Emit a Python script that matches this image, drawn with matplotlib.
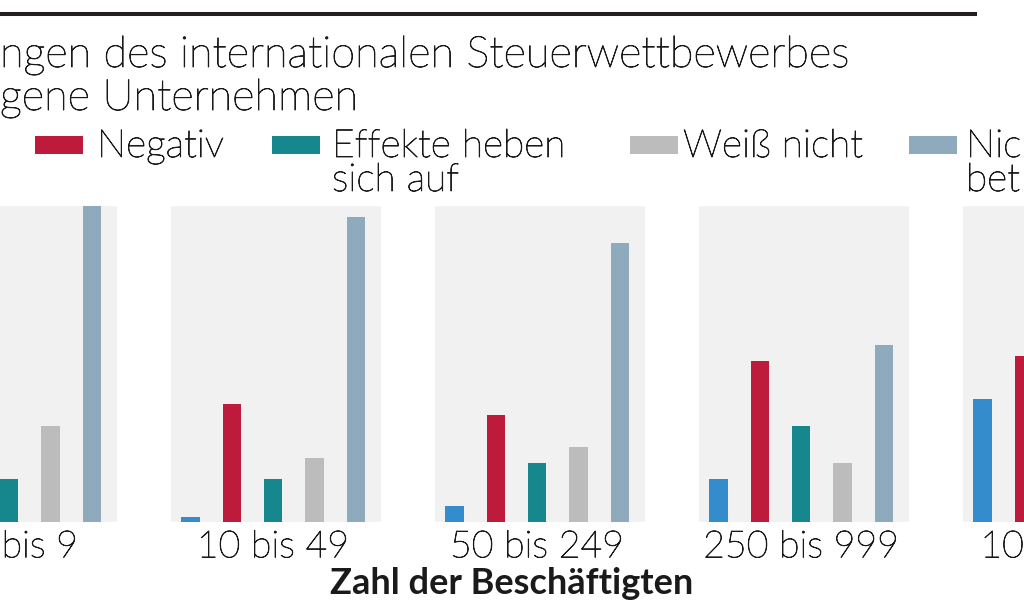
import matplotlib
matplotlib.use('Agg')
import matplotlib.pyplot as plt
import matplotlib.patheffects as pe
from matplotlib.lines import Line2D
from matplotlib.patches import Rectangle
import numpy as np

# Zahl der Beschaeftigten (only the visible part of the cropped labels)
groups = ['bis 9', '10 bis 49', '50 bis 249', '250 bis 999', '10']
categories = ['Positiv', 'Negativ', 'Effekte heben\nsich auf', 'Weiß nicht', 'Nic\nbet']
colors = ['#348ccd', '#be1a3b', '#16878d', '#bcbcbc', '#8faabd']

# Anteile in Prozent, je Gruppe
positiv = [2, 1, 3, 8, 23]
negativ = [13, 22, 20, 30, 31]
effekte = [8, 8, 11, 18, 20]
weiss_nicht = [18, 12, 14, 11, 6]
nicht_betroffen = [59, 57, 52, 33, 20]
series = [positiv, negativ, effekte, weiss_nicht, nicht_betroffen]

title_1 = 'ngen des internationalen Steuerwettbewerbes'
title_2 = 'gene Unternehmen'
xlabel = 'Zahl der Beschäftigten'

W, H = 1024, 600
TXT = '#1a1a1a'
# light font, slightly thickened
thin = dict(fontweight='light', color=TXT,
            path_effects=[pe.withStroke(linewidth=0.6, foreground=TXT)])
plt.rcParams['font.family'] = ['Lato', 'DejaVu Sans']
fig = plt.figure(figsize=(W / 100, H / 100), dpi=100)
fig.patch.set_facecolor('white')


def fx(px):
    return px / W


def fy(py):
    return 1 - py / H


# thick rule on top
fig.add_artist(Line2D([0, fx(975)], [fy(14), fy(14)], lw=2.9, color='#231f20'))

# title (cropped on the left in the original)
fig.text(0, fy(67), title_1, ha='left', va='baseline', fontsize=31.2, **thin)
fig.text(0, fy(110), title_2, ha='left', va='baseline', fontsize=31.2, **thin)

# legend, drawn by hand; the "Positiv" entry lies outside the crop
patch_x = [None, 35, 272, 630, 909]
text_x = [None, 97, 332, 683, 966]
for i, cat in enumerate(categories):
    if patch_x[i] is None:
        continue
    fig.add_artist(Rectangle((fx(patch_x[i]), fy(154)), fx(48), 18 / H,
                             color=colors[i], lw=0))
    for j, line in enumerate(cat.split('\n')):
        fig.text(fx(text_x[i]), fy(157 + 34 * j), line, ha='left', va='baseline',
                 fontsize=28, **thin)

# panels
lefts = [-93, 171, 435, 699, 963]
label_x = [1.82, 2, 2, 2, -0.05]
label_ha = ['left', 'center', 'center', 'center', 'left']
x = np.arange(len(categories))
for g, left in enumerate(lefts):
    ax = fig.add_axes([fx(left), fy(522), fx(210), 316 / H])
    ax.set_facecolor('#f1f1f1')
    for i in range(len(categories)):
        ax.bar(x[i], series[i][g], width=0.44, color=colors[i], lw=0)
    ax.set_xlim(-0.47, 4.61)
    ax.set_ylim(0, 59)
    for s in ax.spines.values():
        s.set_visible(False)
    ax.set_yticks([])
    ax.set_xticks([label_x[g]])
    ax.set_xticklabels([groups[g]], fontsize=27, ha=label_ha[g], **thin)
    ax.tick_params(axis='x', length=0, pad=6)

fig.text(0.5, 0.0, xlabel, ha='center', va='bottom', fontsize=26,
         fontweight='bold', color=TXT)

fig.savefig('out.png', dpi=100)
